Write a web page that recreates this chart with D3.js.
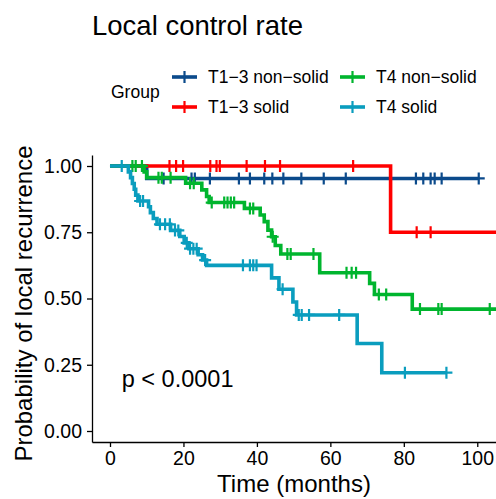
<!DOCTYPE html>
<html>
<head>
<meta charset="utf-8">
<script src="https://cdn.jsdelivr.net/npm/d3@7"></script>
<style>
body { margin: 0; background: #fff; }
svg text { font-family: "Liberation Sans", Arial, Helvetica, sans-serif; fill: #000; }
</style>
</head>
<body>
<div id="chart"></div>
<script>
// groups, in legend / drawing order
var groups = ["T1\u22123 non\u2212solid", "T1\u22123 solid", "T4 non\u2212solid", "T4 solid"];
var colors = ["#0B4A8B", "#FF0000", "#00B52E", "#0A9DBE"];

// Kaplan-Meier steps: time of each drop and survival after it
var blueTimes = [0, 10.0];
var blueSurv = [1, 0.953];
var blueCensor = [14.6, 22.2, 23.1, 27.2, 35.1, 38.1, 42.0, 44.2, 47.2, 52.1, 58.2, 64.2,
                  76.4, 83.3, 85.3, 87.3, 88.4, 90.3, 100.4];

var redTimes = [0, 76.4];
var redSurv = [1, 0.75];
var redCensor = [16.2, 18.0, 19.9, 27.3, 29.0, 29.9, 37.2, 42.2, 46.3, 66.2, 83.5, 87.3];

var greenTimes = [0, 9.3, 10.0, 20.6, 25.0, 26.3, 27.0, 36.6, 40.9, 42.0, 43.0, 44.0, 45.0,
                  46.5, 57.1, 70.7, 72.0, 82.3];
var greenSurv = [1, 0.978, 0.956, 0.935, 0.91, 0.885, 0.862, 0.84, 0.815, 0.79, 0.758, 0.733,
                 0.70, 0.668, 0.597, 0.557, 0.515, 0.46];
var greenCensor = [6.1, 7.0, 8.7, 13.2, 14.1, 16.5, 21.8, 22.8, 27.7, 31.1, 32.0, 32.9, 33.8,
                   38.1, 39.0, 44.3, 48.3, 49.2, 55.4, 64.4, 65.8, 67.0, 73.2, 75.2,
                   84.4, 89.4, 90.3, 103.4];

var tealTimes = [0, 5.0, 5.6, 6.1, 6.6, 7.0, 7.6, 10.5, 11.0, 11.8, 12.8, 16.5, 19.0, 20.2,
                 21.5, 24.0, 25.2, 26.3, 44.0, 46.0, 49.8, 50.8, 67.3, 74.0];
var tealSurv = [1, 0.978, 0.956, 0.934, 0.912, 0.89, 0.868, 0.846, 0.824, 0.802, 0.78, 0.757,
                0.734, 0.71, 0.688, 0.665, 0.645, 0.625, 0.578, 0.535, 0.487, 0.438, 0.33, 0.22];
var tealCensor = [3.2, 8.2, 9.0, 13.6, 15.0, 16.3, 17.7, 18.6, 20.9, 21.8, 22.7, 23.6, 25.9,
                  36.2, 38.1, 39.0, 39.9, 47.0, 51.4, 52.2, 54.2, 62.4, 80.3, 91.6];

// last follow-up time of each curve
var endTimes = [100.4, 106, 106, 91.6];

var xTicks = [0, 20, 40, 60, 80, 100];
var yTicks = [0, 0.25, 0.5, 0.75, 1];

var curves = [
    {times: blueTimes, surv: blueSurv, censor: blueCensor},
    {times: redTimes, surv: redSurv, censor: redCensor},
    {times: greenTimes, surv: greenSurv, censor: greenCensor},
    {times: tealTimes, surv: tealSurv, censor: tealCensor}
];

var W = 496, H = 499;
var margin = {top: 155, right: 0, bottom: 57, left: 92},
    width = W - margin.left - margin.right,
    height = H - margin.top - margin.bottom;

var svg = d3.select("#chart").append("svg")
    .attr("width", W)
    .attr("height", H);

var g = svg.append("g")
    .attr("transform", "translate(" + margin.left + "," + margin.top + ")");

var x = d3.scaleLinear().domain([-4.9, 105.1]).range([0, width]);
var y = d3.scaleLinear().domain([-0.0415, 1.0415]).range([height, 0]);

g.append("clipPath").attr("id", "clip")
    .append("rect")
    .attr("x", 0).attr("y", -10)
    .attr("width", width).attr("height", height + 20);

var plot = g.append("g").attr("clip-path", "url(#clip)");

function survAt(c, t) {
    var s = c.surv[0];
    for (var i = 0; i < c.times.length; i++) {
        if (c.times[i] <= t) s = c.surv[i];
    }
    return s;
}

var line = d3.line()
    .x(function(d) { return x(d[0]); })
    .y(function(d) { return y(d[1]); })
    .curve(d3.curveStepAfter);

var half = 6;

curves.forEach(function(c, i) {
    var pts = c.times.map(function(t, j) { return [t, c.surv[j]]; });
    pts.push([endTimes[i], c.surv[c.surv.length - 1]]);

    plot.append("path")
        .attr("d", line(pts))
        .attr("fill", "none")
        .attr("stroke", colors[i])
        .attr("stroke-width", 3.6);

    // censor marks
    plot.append("g").selectAll("path")
        .data(c.censor)
        .enter().append("path")
        .attr("d", function(t) {
            var cx = x(t), cy = y(survAt(c, t));
            return "M" + (cx - half) + "," + cy + "H" + (cx + half) +
                   "M" + cx + "," + (cy - half) + "V" + (cy + half);
        })
        .attr("stroke", colors[i])
        .attr("stroke-width", 2.2)
        .attr("fill", "none");
});

// axes
var xAxis = g.append("g")
    .attr("transform", "translate(0," + height + ")")
    .call(d3.axisBottom(x).tickValues(xTicks).tickSize(5).tickSizeOuter(0).tickPadding(4));
var yAxis = g.append("g")
    .call(d3.axisLeft(y).tickValues(yTicks).tickFormat(d3.format(".2f"))
        .tickSize(5).tickSizeOuter(0).tickPadding(5));

[xAxis, yAxis].forEach(function(a) {
    a.select(".domain").attr("stroke", "#000").attr("stroke-width", 1.3);
    a.selectAll(".tick line").attr("stroke", "#000").attr("stroke-width", 1.3);
    a.selectAll(".tick text").attr("font-size", 19.5).attr("fill", "#000")
        .style("font-family", '"Liberation Sans", Arial, sans-serif');
});

// p-value
g.append("text")
    .attr("x", x(3.2))
    .attr("y", y(0.166))
    .attr("font-size", 23.5)
    .text("p < 0.0001");

// axis titles
svg.append("text")
    .attr("x", margin.left + width / 2)
    .attr("y", 492)
    .attr("text-anchor", "middle")
    .attr("font-size", 24)
    .text("Time (months)");

svg.append("text")
    .attr("transform", "translate(32," + (margin.top + height / 2 + 5) + ") rotate(-90)")
    .attr("text-anchor", "middle")
    .attr("font-size", 24)
    .text("Probability of local recurrence");

// title
svg.append("text")
    .attr("x", 92)
    .attr("y", 35)
    .attr("font-size", 27.5)
    .text("Local control rate");

// legend
var legend = svg.append("g");
legend.append("text")
    .attr("x", 111)
    .attr("y", 92)
    .attr("dy", "0.35em")
    .attr("font-size", 17.5)
    .text("Group");

var colX = [172, 340], rowY = [77, 107];
groups.forEach(function(name, i) {
    var kx = colX[Math.floor(i / 2)], ky = rowY[i % 2];
    var item = legend.append("g");
    item.append("line")
        .attr("x1", kx).attr("x2", kx + 25)
        .attr("y1", ky).attr("y2", ky)
        .attr("stroke", colors[i]).attr("stroke-width", 3.6);
    item.append("line")
        .attr("x1", kx + 12.5).attr("x2", kx + 12.5)
        .attr("y1", ky - half).attr("y2", ky + half)
        .attr("stroke", colors[i]).attr("stroke-width", 2.2);
    item.append("text")
        .attr("x", kx + 36)
        .attr("y", ky)
        .attr("dy", "0.35em")
        .attr("font-size", 17.5)
        .text(name);
});
</script>
</body>
</html>
